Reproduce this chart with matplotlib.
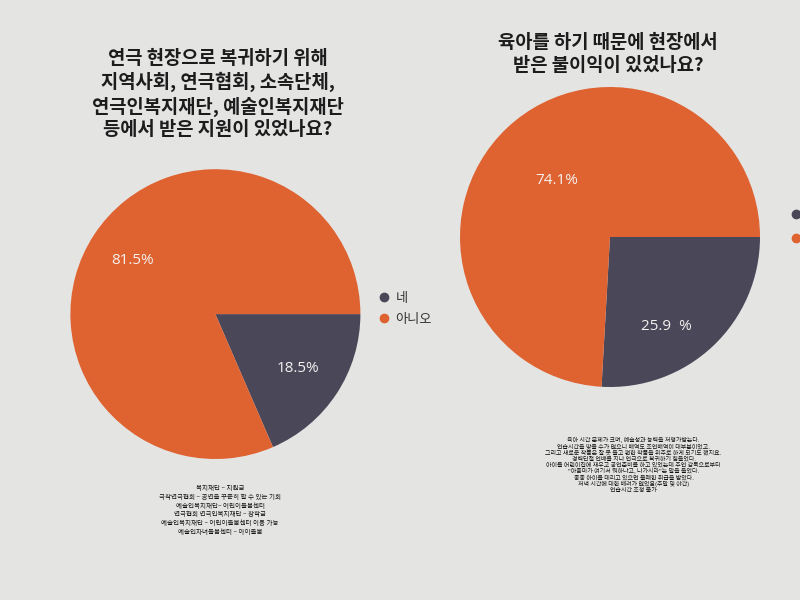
import matplotlib
matplotlib.use("Agg")
import matplotlib.pyplot as plt
from matplotlib.lines import Line2D

plt.rcParams['font.family'] = ['Noto Sans CJK KR', 'DejaVu Sans']

# data
categories = ['네', '아니오']
left_values = [18.5, 81.5]
right_values = [25.9, 74.1]
left_labels = ['18.5%', '81.5%']
right_labels = ['25.9  %', '74.1%']

left_title = '연극 현장으로 복귀하기 위해\n지역사회, 연극협회, 소속단체,\n연극인복지재단, 예술인복지재단\n등에서 받은 지원이 있었나요?'
right_title = '육아를 하기 때문에 현장에서\n받은 불이익이 있었나요?'

left_notes = ['복지재단 – 지원금',
              '극작연극협회 – 공연을 꾸준히 할 수 있는 기회',
              '예술인복지재단– 어린이돌봄센터',
              '연극협회 연극인복지재단 – 장학금',
              '예술인복지재단 – 어린이돌봄센터 이용 가능',
              '예술인자녀돌봄센터 – 아이돌봄']
right_notes = ['육아 시간 문제가 크며, 예술성과 능력을 저평가받는다.',
               '연습시간을 맞출 수가 없으니 배역도 조연배역이 대부분이었고.',
               '그리고 새로운 작품은 잘 못 들고 편한 작품을 위주로 하게 되기도 했지요.',
               '경력단절 연배를 지나 연극으로 복귀하기 힘들었다.',
               '아이를 어린이집에 재우고 공연준비를 하고 있었는데 주연 감독으로부터',
               '"아줌마가 여기서 뭐하냐고, 나가시라"는 말을 들었다.',
               '종종 아이를 데리고 있으면 불쾌한 취급을 받았다.',
               '저녁 시간에 대한 배려가 없었음(주말 및 야간)',
               '연습시간 조정 불가']

colors = ['#4a4759', '#df6231']
bg = '#e4e5e3'

fig = plt.figure(figsize=(8, 6), dpi=100, facecolor=bg)


def draw_pie(rect, values, labels, dists):
    ax = fig.add_axes(rect)
    wedges, texts, autotexts = ax.pie(values, colors=colors, startangle=0,
                                      counterclock=False, autopct='%1.1f%%',
                                      pctdistance=0.68,
                                      wedgeprops={'linewidth': 0})
    for t, lab, d in zip(autotexts, labels, dists):
        x, y = t.get_position()
        r = (x ** 2 + y ** 2) ** 0.5
        t.set_position((x / r * d[0], y / r * d[0] + d[1]))
        t.set_text(lab)
        t.set_color('#f4f0ee')
        t.set_fontsize(11)
        t.set_family(['Open Sans', 'DejaVu Sans'])
    ax.set_xlim(-1, 1)
    ax.set_ylim(-1, 1)
    ax.set_aspect('auto')
    ax.axis('off')
    return ax


draw_pie([0.088, 0.235, 0.3625, 0.483], left_values, left_labels,
         [(0.68, 0.0), (0.68, 0.0)])
draw_pie([0.575, 0.355, 0.375, 0.5], right_values, right_labels,
         [(0.55, -0.2), (0.52, 0.0)])

# titles
fig.text(0.272, 0.843, left_title, ha='center', va='center', fontsize=13.5,
         fontweight='bold', color='#1c1c1c', linespacing=1.25)
fig.text(0.76, 0.91, right_title, ha='center', va='center', fontsize=13.5,
         fontweight='bold', color='#1c1c1c', linespacing=1.25)

# legend
handles = [Line2D([], [], marker='o', linestyle='', markersize=6,
                  markerfacecolor=c, markeredgecolor=c) for c in colors]
fig.legend(handles, categories, loc='center left', bbox_to_anchor=(0.455, 0.485),
           frameon=False, fontsize=9.5, handletextpad=0.3, labelspacing=0.6,
           labelcolor='#333333', handlelength=1.2)

# partial legend dots at right edge
for y, c in zip([0.643, 0.603], colors):
    fig.add_artist(Line2D([0.995], [y], marker='o', markersize=6,
                          color=c, transform=fig.transFigure))

# notes
fig.text(0.275, 0.15, '\n'.join(left_notes), ha='center', va='center',
         fontsize=4.7, color='#111111', linespacing=1.15)
fig.text(0.792, 0.225, '\n'.join(right_notes), ha='center', va='center',
         fontsize=4.3, color='#111111', linespacing=1.15)

fig.savefig('out.png', dpi=100, facecolor=bg)
